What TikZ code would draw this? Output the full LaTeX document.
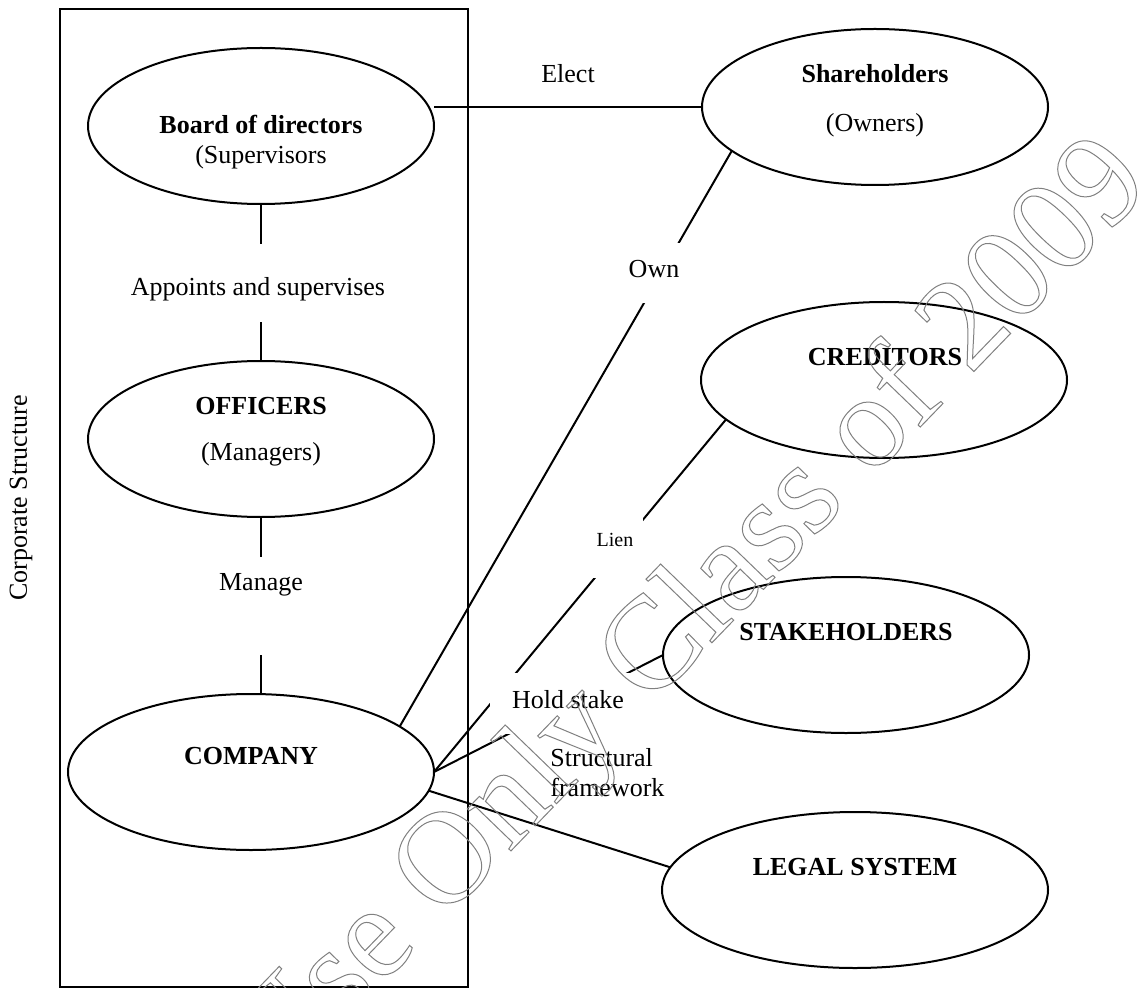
\documentclass[tikz,border=0pt]{standalone}
\usepackage{fontspec}
\setmainfont{Liberation Serif}
\usetikzlibrary{shapes.geometric}

\tikzset{
  oval/.style={draw, ellipse, line width=1pt, inner sep=0pt, outer sep=0pt, minimum height=78pt},
  link/.style={line width=1pt},
  title/.style={anchor=base, font=\fontsize{13}{15}\selectfont\bfseries},
  note/.style={anchor=base},
  gapbox/.style={fill=white, inner sep=0pt, anchor=base},
}

\begin{document}
\begin{tikzpicture}[x=0.5pt, y=-0.5pt, font=\fontsize{13}{15}\selectfont]
    \useasboundingbox (0,0) rectangle (1138,988);

    % Frame around the inside of the corporation
    \draw[line width=1pt] (60,9) rectangle (468,987);
    \node[rotate=90] (corp) at (21,498) {Corporate Structure};

    % Ellipses inside the frame
    \node[oval, minimum width=173pt] (board) at (261,126) {};
    \node[oval, minimum width=173pt] (officers) at (261,439) {};
    \node[oval, minimum width=183pt] (company) at (251,772) {};

    % Ellipses outside the frame
    \node[oval, minimum width=173pt] (share) at (875,107) {};
    \node[oval, minimum width=183pt] (creditors) at (884,380) {};
    \node[oval, minimum width=183pt] (stake) at (846,655) {};
    \node[oval, minimum width=193pt] (legal) at (855,890) {};

    % Connections
    \draw[link] (board) -- (officers);
    \draw[link] (officers.south) -- (officers.south |- company.north);
    \draw[line width=0.6pt] (board.east |- share.west) -- (share.west);
    \draw[link] (share.197) -- (company.17);
    \draw[link] (creditors.194) -- (company.east);
    \draw[link] (stake.west) -- (company.east);
    \draw[link] (company.-6) -- (legal.173);

    % Texts in the ellipses
    \node[title] (boardT) at (261,134) {Board of directors};
    \node[note] (boardS) at (261,164) {(Supervisors};
    \node[title] (officersT) at (261,415) {OFFICERS};
    \node[note] (officersS) at (261,460) {(Managers)};
    \node[title] (companyT) at (251,764) {COMPANY};
    \node[title] (shareT) at (875,83) {Shareholders};
    \node[note] (shareS) at (875,132) {(Owners)};
    \node[title] (creditorsT) at (885,365) {CREDITORS};
    \node[title] (stakeT) at (846,640) {STAKEHOLDERS};
    \node[title] (legalT) at (855,875) {LEGAL SYSTEM};

    % Labels on the connections (white boxes break the lines)
    \node[gapbox, text height=26pt, text depth=13pt] (appoint) at (258,296) {Appoints and supervises};
    \node[gapbox, text height=16.5pt, text depth=32.5pt] (manage) at (261,590) {Manage};
    \node[gapbox, text height=17.5pt, text depth=12.5pt, minimum width=31pt] (own) at (654,278) {Own};
    \node[gapbox, text height=14.5pt, text depth=16pt, minimum width=28pt,
          font=\fontsize{10}{12}\selectfont] (lien) at (615,546) {Lien};
    \node[gapbox, text height=17.5pt, text depth=13pt, minimum width=78pt] (hold) at (568,708) {Hold stake};
    \node[note] (elect) at (568,83) {Elect};
    \node[anchor=base west, text width=60pt, align=left, inner sep=0pt] (frame) at (550,766) {Structural\\framework};

    % Outlined watermark
    \node[rotate=46, text=gray, font=\fontsize{66}{66}\selectfont] (mark) at (692,617)
        {\special{pdf:literal direct 1 Tr 0.5 w}Use Only Class of 2009\special{pdf:literal direct 0 Tr}};
\end{tikzpicture}
\end{document}
